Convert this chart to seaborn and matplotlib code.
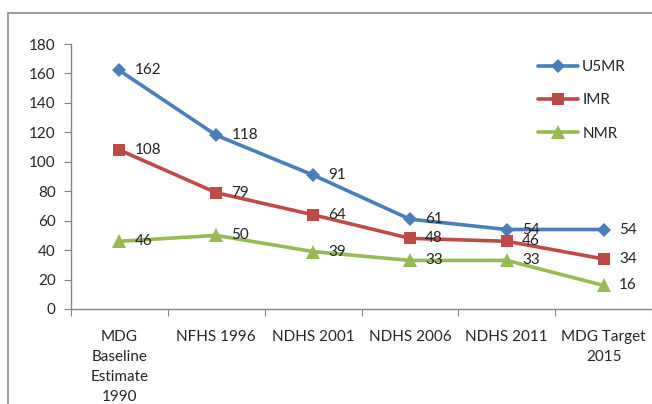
import matplotlib
matplotlib.use("Agg")
import matplotlib.pyplot as plt
import pandas as pd
import seaborn as sns
from matplotlib.patches import Rectangle

# data
surveys = ["MDG\nBaseline\nEstimate\n1990", "NFHS 1996", "NDHS 2001",
           "NDHS 2006", "NDHS 2011", "MDG Target\n2015"]
u5mr = [162, 118, 91, 61, 54, 54]
imr = [108, 79, 64, 48, 46, 34]
nmr = [46, 50, 39, 33, 33, 16]
series_names = ["U5MR", "IMR", "NMR"]

colors = {"U5MR": "#4A7EBB", "IMR": "#BE4B48", "NMR": "#98B954"}
markers = {"U5MR": "D", "IMR": "s", "NMR": "^"}
msizes = {"U5MR": 7, "IMR": 9, "NMR": 10}

rows = []
for name, vals in zip(series_names, [u5mr, imr, nmr]):
    for i, v in enumerate(vals):
        rows.append({"pos": i, "value": v, "series": name})
df = pd.DataFrame(rows)

sns.set_style("ticks")
plt.rcParams["font.family"] = ["Lato", "DejaVu Sans"]

fig = plt.figure(figsize=(6.52, 4.04), dpi=100)
ax = fig.add_axes([71 / 652, 1 - 309 / 404, 581 / 652, 265 / 404])

for name in series_names:
    sub = df[df["series"] == name]
    sns.lineplot(data=sub, x="pos", y="value", ax=ax, color=colors[name],
                 marker=markers[name], markersize=msizes[name], markeredgewidth=0,
                 linewidth=2.6, label=name)
    for x, y in zip(sub["pos"], sub["value"]):
        ax.annotate(f"{y}", (x, y), xytext=(11, 0), textcoords="offset points",
                    ha="left", va="center", fontsize=11, color="#222222")

ax.set_xlim(-0.5, 5.5)
ax.set_ylim(0, 180)
ax.set_yticks(range(0, 181, 20))
ax.set_xticks([i - 0.5 for i in range(7)])
ax.set_xticklabels([])
ax.set_xticks(range(6), minor=True)
ax.set_xticklabels(surveys, minor=True, fontsize=11, ha="center", linespacing=1.55)
ax.tick_params(axis="x", which="minor", length=0, pad=15)
ax.tick_params(axis="x", which="major", length=5, color="#868686", direction="out")
ax.tick_params(axis="y", length=5, color="#868686", labelsize=11, pad=6)
ax.set_xlabel("")
ax.set_ylabel("")
sns.despine(ax=ax)
for sp in ["left", "bottom"]:
    ax.spines[sp].set_color("#868686")
    ax.spines[sp].set_linewidth(1)

ax.legend(loc="upper left", bbox_to_anchor=(0.78, 0.99), frameon=False,
          fontsize=11, handlelength=2.6, labelspacing=1.25, handletextpad=0.3)

# outer chart border (partly cropped in the reference)
fig.patches.append(Rectangle((8 / 652, -0.1), 1.2, 1 - 13 / 404 + 0.1,
                             transform=fig.transFigure, fill=False,
                             edgecolor="#8c8c8c", linewidth=1.2))

fig.savefig("out.png", dpi=100)
